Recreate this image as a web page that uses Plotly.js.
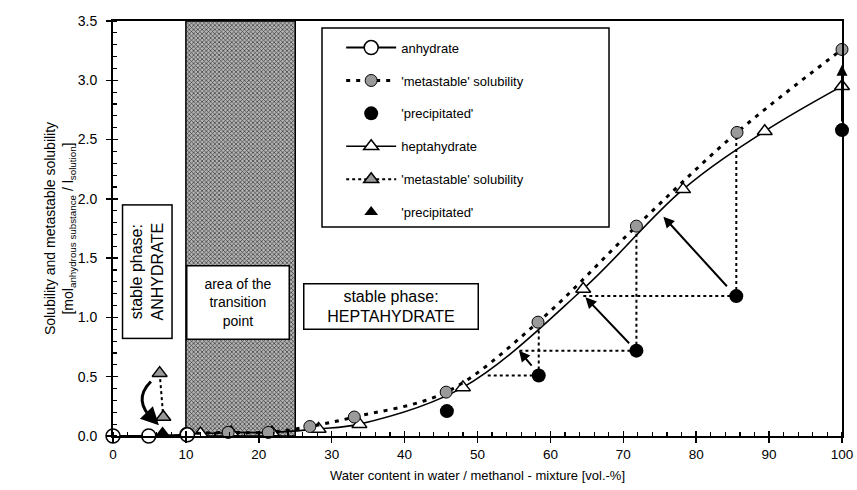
<!DOCTYPE html>
<html>
<head>
<meta charset="utf-8">
<script src="https://cdn.plot.ly/plotly-3.0.1.min.js"></script>
<style>html,body{margin:0;padding:0;background:#fff;}#chart{width:857px;height:490px;}</style>
</head>
<body>
<div id="chart"></div>
<script>
// ---- data ----
const anhydrateX = [0, 4.9, 10.2];
const anhydrateY = [0, 0, 0.01];

const metaCircleX = [10, 15.8, 21.3, 27, 33.1, 45.7, 58.3, 71.8, 85.6, 100];
const metaCircleY = [0.02, 0.03, 0.03, 0.08, 0.16, 0.37, 0.96, 1.77, 2.56, 3.26];

const precCircleX = [45.8, 58.4, 71.8, 85.5, 100];
const precCircleY = [0.21, 0.51, 0.72, 1.18, 2.58];

const heptaX = [12, 16.2, 21.8, 28.2, 33.8, 48, 64.5, 78.2, 89.4, 100];
const heptaY = [0.02, 0.03, 0.03, 0.06, 0.10, 0.41, 1.24, 2.08, 2.57, 2.95];

const metaTriX = [6.4, 6.9];
const metaTriY = [0.53, 0.16];

const precTriX = [6.8];
const precTriY = [0.03];

const transitionX = [10, 25];
const yMax = 3.5;

// dotted guide lines (vertical: metastable -> precipitated; horizontal: precipitated -> heptahydrate curve)
const guideVX = [58.4, 71.8, 85.5];
const guideVY0 = [0.51, 0.72, 1.18];
const guideVY1 = [0.96, 1.77, 2.56];
const guideHY = [0.51, 0.72, 1.18];
const guideHX0 = [58.4, 71.8, 85.5];
const guideHX1 = [51.0, 55.6, 64.3];

// arrows (tail -> head)
const arrowTailX = [57.6, 71.0, 84.4, 100];
const arrowTailY = [0.58, 0.77, 1.25, 2.64];
const arrowHeadX = [55.7, 64.8, 75.5, 100];
const arrowHeadY = [0.72, 1.17, 1.85, 3.13];

const legendNames = ["anhydrate", "'metastable' solubility", "'precipitated'", "heptahydrate", "'metastable' solubility", "'precipitated'"];

// ---- build ----
const F = "Liberation Sans, Arial, Helvetica, sans-serif";
const grey = "#9a9a9a";

const gx = [], gy = [];
guideVX.forEach((x, i) => { gx.push(x, x, null); gy.push(guideVY0[i], guideVY1[i], null); });
guideHY.forEach((y, i) => { gx.push(guideHX0[i], guideHX1[i], null); gy.push(y, y, null); });

const traces = [
  { x: [transitionX[0], transitionX[1], transitionX[1], transitionX[0], transitionX[0]],
    y: [0, 0, yMax, yMax, 0], mode: 'lines', fill: 'toself',
    fillcolor: '#a0a0a0',
    fillpattern: { shape: 'x', size: 3, solidity: 0.4, fgcolor: '#333', bgcolor: '#b5b5b5' },
    line: { color: '#000', width: 1.5 }, showlegend: false, hoverinfo: 'skip' },
  { x: gx, y: gy, mode: 'lines', line: { color: '#000', width: 2, dash: 'dot' }, showlegend: false, hoverinfo: 'skip' },
  { x: heptaX, y: heptaY, name: legendNames[3], legendgroup: 'g4', legendrank: 4, mode: 'lines+markers',
    line: { color: '#000', width: 1.6, shape: 'spline' },
    marker: { symbol: 'triangle-up', size: 13, color: '#fff', line: { color: '#000', width: 1.5 } }, cliponaxis: false },
  { x: metaCircleX, y: metaCircleY, name: legendNames[1], legendgroup: 'g2', legendrank: 2, mode: 'lines+markers',
    line: { color: '#000', width: 3, dash: '4px,6px', shape: 'spline' },
    marker: { symbol: 'circle', size: 12, color: grey, line: { color: '#000', width: 1 } }, cliponaxis: false },
  { x: anhydrateX, y: anhydrateY, name: legendNames[0], legendgroup: 'g1', legendrank: 1, mode: 'lines+markers',
    line: { color: '#000', width: 2 },
    marker: { symbol: 'circle', size: 14, color: '#fff', line: { color: '#000', width: 1.5 } }, cliponaxis: false },
  { x: precCircleX, y: precCircleY, name: legendNames[2], legendgroup: 'g3', legendrank: 3, mode: 'markers',
    marker: { symbol: 'circle', size: 14, color: '#000' }, cliponaxis: false },
  { x: metaTriX, y: metaTriY, name: legendNames[4], legendgroup: 'g5', legendrank: 5, mode: 'lines+markers',
    line: { color: '#000', width: 2, dash: 'dot' },
    marker: { symbol: 'triangle-up', size: 13, color: grey, line: { color: '#000', width: 1.5 } }, cliponaxis: false },
  { x: precTriX, y: precTriY, name: legendNames[5], legendgroup: 'g6', legendrank: 6, mode: 'markers',
    marker: { symbol: 'triangle-up', size: 12, color: '#000' }, cliponaxis: false },
  { x: [null], y: [null], xaxis: 'x2', yaxis: 'y2', showlegend: false, hoverinfo: 'skip' }
];

const annotations = arrowTailX.map((tx, i) => ({
  x: arrowHeadX[i], y: arrowHeadY[i], ax: tx, ay: arrowTailY[i], xref: 'x', yref: 'y', axref: 'x', ayref: 'y',
  showarrow: true, arrowhead: 2, arrowsize: 1.1, arrowwidth: 2, arrowcolor: '#000', text: ''
}));

// curved arrow head near the anhydrate region
annotations.push({ x: 6.3, y: 0.09, ax: 5.2, ay: 0.16, xref: 'x', yref: 'y', axref: 'x', ayref: 'y',
  showarrow: true, arrowhead: 2, arrowsize: 1.2, arrowwidth: 3, arrowcolor: '#000', text: '' });

// text boxes
annotations.push({ x: 4.66, y: 1.39, xref: 'x', yref: 'y', text: 'stable phase:<br>ANHYDRATE', textangle: -90,
  showarrow: false, font: { family: F, size: 16, color: '#000' }, bgcolor: '#fff', bordercolor: '#000', borderwidth: 1.5,
  width: 130, height: 46, align: 'center' });
annotations.push({ x: 17.2, y: 1.126, xref: 'x', yref: 'y', text: 'area of the<br>transition<br>point',
  showarrow: false, font: { family: F, size: 14, color: '#000' }, bgcolor: '#fff', bordercolor: '#000', borderwidth: 1.5,
  width: 99, height: 70, align: 'center' });
annotations.push({ x: 38.2, y: 1.096, xref: 'x', yref: 'y', text: 'stable phase:<br>HEPTAHYDRATE',
  showarrow: false, font: { family: F, size: 16, color: '#000' }, bgcolor: '#fff', bordercolor: '#000', borderwidth: 1.5,
  width: 171, height: 42, align: 'center' });

const shapes = [
  { type: 'path', xref: 'x', yref: 'y', path: 'M 5.2,0.46 Q 2.6,0.30 5.6,0.13', line: { color: '#000', width: 3 } },
  { type: 'rect', xref: 'paper', yref: 'paper', x0: 0.2867, x1: 0.6804, y0: 0.5036, y1: 0.983,
    line: { color: '#000', width: 1.5 }, fillcolor: 'rgba(0,0,0,0)', layer: 'above' }
];

const axCommon = { showgrid: false, zeroline: false, color: '#000' };

const layout = {
  width: 857, height: 490,
  margin: { l: 113, r: 15, t: 21, b: 54 },
  paper_bgcolor: '#fff', plot_bgcolor: '#fff',
  font: { family: F, size: 13, color: '#000' },
  showlegend: true,
  legend: { x: 0.313, y: 0.972, xanchor: 'left', yanchor: 'top', bgcolor: 'rgba(0,0,0,0)', borderwidth: 0,
    itemwidth: 50, tracegroupgap: 13, traceorder: 'grouped', font: { family: F, size: 13, color: '#000' } },
  xaxis: Object.assign({}, axCommon, {
    range: [0, 100], dtick: 10, tick0: 0, ticks: 'outside', ticklen: 5, tickwidth: 1.5, tickcolor: '#000',
    minor: { dtick: 2, ticks: 'inside', ticklen: 4, tickwidth: 1.2, tickcolor: '#000', showgrid: false },
    showline: true, linewidth: 2, linecolor: '#000', mirror: true,
    tickfont: { family: F, size: 13.5 },
    title: { text: 'Water content in water / methanol - mixture [vol.-%]', font: { family: F, size: 13 }, standoff: 10 }
  }),
  yaxis: Object.assign({}, axCommon, {
    range: [0, 3.5], dtick: 0.5, tick0: 0, tickformat: '.1f', ticks: 'outside', ticklen: 5, tickwidth: 1.5, tickcolor: '#000',
    minor: { dtick: 0.1, ticks: 'inside', ticklen: 4, tickwidth: 1.2, tickcolor: '#000', showgrid: false },
    showline: true, linewidth: 2, linecolor: '#000', mirror: true, ticklabelstandoff: 6,
    tickfont: { family: F, size: 14 },
    title: { text: 'Solubility and metastable solubility<br>[mol<sub>anhydrous substance</sub> / l<sub>solution</sub>]',
      font: { family: F, size: 14 }, standoff: 0 }
  }),
  xaxis2: { overlaying: 'x', anchor: 'y2', range: [0, 100], dtick: 10, tick0: 0, ticks: 'inside', ticklen: 5, tickwidth: 1.5,
    tickcolor: '#000', showticklabels: false, showgrid: false, zeroline: false, showline: false },
  yaxis2: { overlaying: 'y', anchor: 'x2', range: [0, 3.5], dtick: 0.5, tick0: 0, ticks: 'inside', ticklen: 5, tickwidth: 1.5,
    tickcolor: '#000', showticklabels: false, showgrid: false, zeroline: false, showline: false },
  annotations: annotations,
  shapes: shapes
};

Plotly.newPlot('chart', traces, layout, { displayModeBar: false, staticPlot: true });
</script>
</body>
</html>
